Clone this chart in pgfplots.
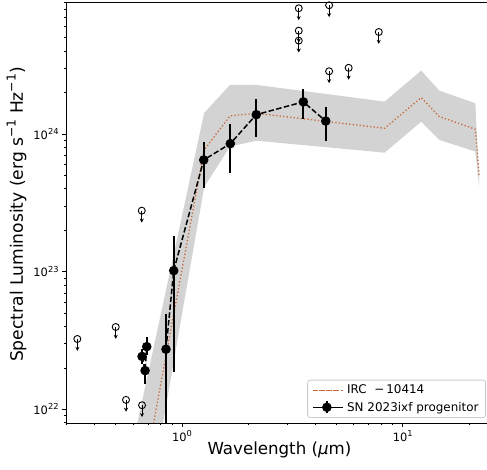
\documentclass[border=0pt]{standalone}
\usepackage{fontspec}
\setmainfont{DejaVu Sans}
\usepackage{graphicx}
\usepackage{pgfplots}
\pgfplotsset{compat=1.18}
\usetikzlibrary{arrows.meta}
\definecolor{irc}{RGB}{200,105,60}
\definecolor{band}{RGB}{211,211,211}
\newcommand{\sps}[1]{\raisebox{0.42em}{\scalebox{0.72}{#1}}}
\pgfplotsset{
  ircleg/.style={legend image code/.code={\path (-2bp,0bp) -- (29bp,0bp); \draw[##1] (0bp,0bp) -- (23bp,0bp);}},
  snleg/.style={legend image code/.code={
    \path (-2bp,0bp) -- (29bp,0bp);
    \draw[##1, mark repeat=2, mark phase=2] plot coordinates {(0bp,0bp) (11.5bp,0bp) (23bp,0bp)};
    \draw[black, solid, line width=1.8bp] (11.5bp,-6bp) -- (11.5bp,6bp);}},
}
\begin{document}
\begin{tikzpicture}
\begin{axis}[
  name=ax,
  scale only axis, width=421bp, height=421bp,
  xmode=log, ymode=log,
  xmin=0.298, xmax=24.1, ymin=7.955e21, ymax=9.09e24,
  axis x line=box, axis y line*=left,
  axis line style={line width=0.8bp, black},
  tick align=outside, major tick length=4bp, minor tick length=2.2bp,
  tick style={line width=0.8bp, black},
  minor tick style={line width=0.6bp, black},
  xtick pos=left, ytick pos=left,
  xtick={1,10}, xticklabels={10\sps{0},10\sps{1}},
  minor xtick={0.3,0.4,0.5,0.6,0.7,0.8,0.9,2,3,4,5,6,7,8,9,20},
  ytick={1e22,1e23,1e24}, yticklabels={10\sps{22},10\sps{23},10\sps{24}},
  minor ytick={8e21,9e21,2e22,3e22,4e22,5e22,6e22,7e22,8e22,9e22,2e23,3e23,4e23,5e23,6e23,7e23,8e23,9e23,2e24,3e24,4e24,5e24,6e24,7e24,8e24,9e24},
  tick label style={font=\fontsize{11.5}{13}\selectfont},
  xlabel={Wavelength ({\itshape μ}m)},
  xlabel style={at={(rel axis cs:0.507,-0.076)}, anchor=base, inner sep=0pt, font=\fontsize{16.7}{20}\selectfont},
  ylabel={Spectral Luminosity (erg s\sps{−1} Hz\sps{−1})},
  ylabel style={at={(rel axis cs:-0.1026,0.495)}, anchor=base, inner sep=0pt, font=\fontsize{17.2}{20}\selectfont},
  legend cell align=left,
  legend style={at={(rel axis cs:0.9976,0.0119)}, anchor=south east, draw=black!20, line width=0.8bp, rounded corners=2.5bp, fill=white, font=\fontsize{12}{14}\selectfont, inner xsep=5bp, inner ysep=3bp, row sep=2.5bp},
]
% uncertainty band
\addplot[fill=band, draw=none, forget plot] coordinates {
(0.60,5.70e21) (1.26,1.421e24) (1.65,2.270e24) (2.17,2.270e24) (8.28,1.718e24) (12.13,2.884e24) (14.65,2.061e24) (21.34,1.671e24) (22.2,4.57e23)
(22.2,4.14e23) (21.34,7.45e23) (14.65,9.04e23) (12.13,1.227e24) (8.28,7.31e23) (2.17,8.93e23) (1.65,8.09e23) (1.26,4.12e23) (0.60,4.47e20)
} -- cycle;
% model
\addplot[irc, line width=1.3bp, dash pattern=on 1.3bp off 2.2bp, ircleg] coordinates {
(0.60,1.247e21) (1.26,7.66e23) (1.65,1.352e24) (2.17,1.413e24) (8.28,1.099e24) (12.13,1.837e24) (14.65,1.337e24) (21.34,1.081e24) (22.2,5.01e23)
};
\addlegendentry{IRC\ \ −\,10414}
% progenitor data, optical group
\addplot[black, line width=1.5bp, dash pattern=on 5.5bp off 2.4bp, mark=*, mark size=4bp, mark options={solid}, forget plot,
  error bars/.cd, y dir=both, y explicit, error mark=none, error bar style={solid, line width=1.8bp}]
  table[x=x, y=y, y error plus=ep, y error minus=em] {
x y ep em
0.659 2.42e22 0.31e22 0.28e22
0.680 1.91e22 0.19e22 0.38e22
0.692 2.85e22 0.49e22 0.37e22
};
% progenitor data, main
\addplot[black, line width=1.5bp, dash pattern=on 5.5bp off 2.4bp, mark=*, mark size=4bp, mark options={solid}, snleg,
  error bars/.cd, y dir=both, y explicit, error mark=none, error bar style={solid, line width=1.8bp}]
  table[x=x, y=y, y error plus=ep, y error minus=em] {
x y ep em
0.846 2.73e22 2.20e22 2.63e22
0.917 1.016e23 0.80e23 0.83e23
1.254 6.47e23 2.23e23 2.40e23
1.655 8.50e23 3.25e23 3.32e23
2.17 1.38e24 4.15e23 4.24e23
3.545 1.71e24 4.10e23 4.30e23
4.48 1.24e24 3.20e23 3.50e23
};
\addlegendentry{SN 2023ixf progenitor}
% upper limits
\addplot[black, only marks, mark=o, mark size=3.5bp, mark options={fill=white, line width=0.9bp}, forget plot,
  error bars/.cd, y dir=minus, y explicit relative, error mark=none,
  error bar style={line width=1bp, -{Stealth[length=4bp, width=4bp]}}]
  table[x=x, y=y, y error=e] {
x y e
3.38 8.18e24 0.18
4.64 8.60e24 0.18
3.38 5.62e24 0.18
3.38 4.76e24 0.18
7.79 5.50e24 0.18
4.64 2.85e24 0.18
5.69 3.02e24 0.18
0.657 2.77e23 0.18
0.3354 3.24e22 0.18
0.5006 3.96e22 0.18
0.5574 1.17e22 0.18
0.659 1.07e22 0.18
};
\end{axis}
\pgfresetboundingbox
\path ([shift={(-66bp,-47bp)}]ax.south west) rectangle ([shift={(0bp,2bp)}]ax.north east);
\end{tikzpicture}
\end{document}
